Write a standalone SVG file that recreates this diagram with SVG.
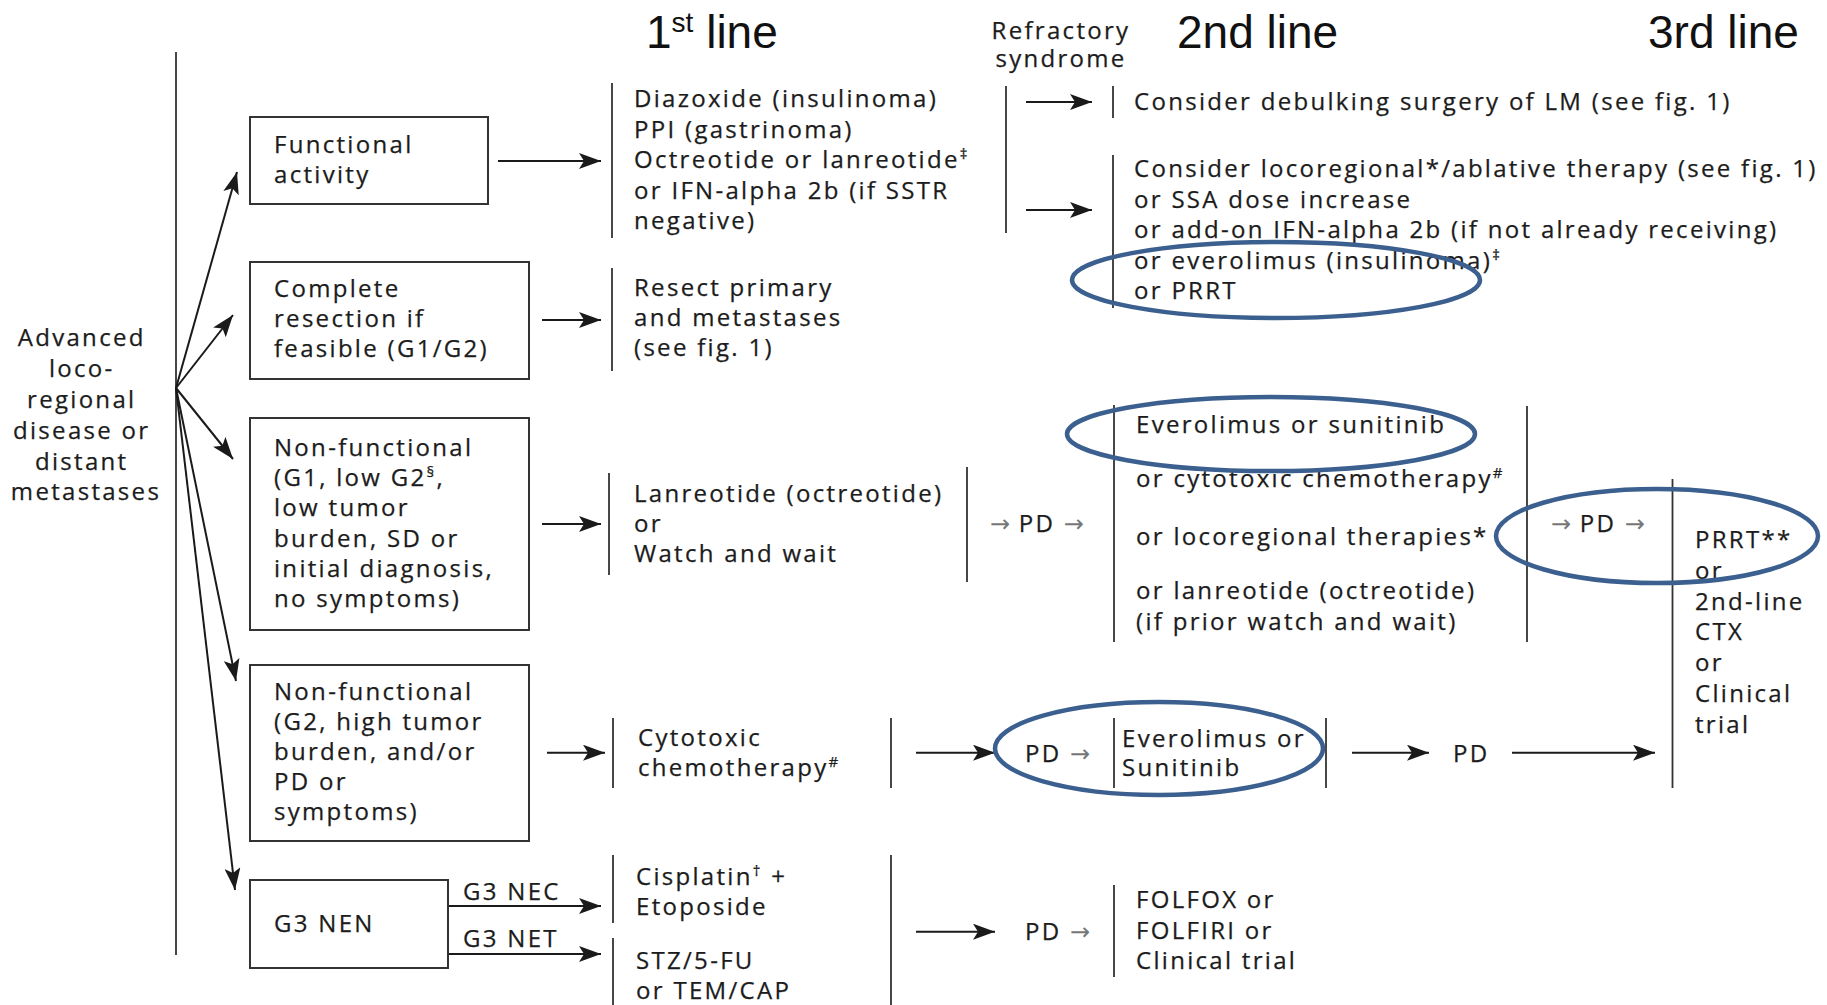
<svg xmlns="http://www.w3.org/2000/svg" width="1827" height="1005" viewBox="0 0 1827 1005">
<defs>
<marker id="ah" markerUnits="userSpaceOnUse" markerWidth="24" markerHeight="16" refX="22" refY="8" orient="auto">
<path d="M0,0 L22,8 L0,16 L5,8 Z" fill="#1a1a1a"/>
</marker>
<style>
.t{font-family:"Open Sans","Noto Sans","DejaVu Sans",sans-serif;font-size:24px;letter-spacing:2.3px;fill:#1c1c1c;stroke:#1c1c1c;stroke-width:0.25}
.h{font-family:"Liberation Sans",Arial,sans-serif;font-size:46px;fill:#111}
.sup{font-size:15px}
.ar{font-family:"DejaVu Sans",sans-serif;font-size:24px;fill:#777;stroke:none;letter-spacing:0}
.bar{stroke:#333;stroke-width:1.8}
.box{fill:#fff;stroke:#333;stroke-width:2}
.conn{stroke:#1a1a1a;stroke-width:2;fill:none;marker-end:url(#ah)}
.ell{fill:none;stroke:#3b5f8e;stroke-width:4.5}
</style>
</defs>
<rect width="1827" height="1005" fill="#fff"/>

<g id="headers">
<text class="h" x="646" y="48">1<tspan font-size="28" dy="-16">st</tspan><tspan dy="16"> line</tspan></text>
<text class="h" x="1177" y="48">2nd line</text>
<text class="h" x="1648" y="48">3rd line</text>
<text class="t" text-anchor="middle" x="1061" y="39">Refractory</text>
<text class="t" text-anchor="middle" x="1061" y="67">syndrome</text>
</g>

<g id="start">
<text class="t" text-anchor="middle" x="86">
<tspan x="86" y="346">Advanced</tspan>
<tspan x="86" y="377">loco-</tspan>
<tspan x="86" y="408">regional</tspan>
<tspan x="86" y="439">disease or</tspan>
<tspan x="86" y="469.5">distant</tspan>
<tspan x="86" y="500">metastases</tspan>
</text>
<line class="bar" x1="176" y1="52" x2="176" y2="955" stroke-width="2"/>
</g>

<g id="connectors">
<line class="conn" x1="176" y1="388" x2="237" y2="172"/>
<line class="conn" x1="176" y1="388" x2="233" y2="315"/>
<line class="conn" x1="176" y1="388" x2="233" y2="459"/>
<line class="conn" x1="176" y1="388" x2="236" y2="681"/>
<line class="conn" x1="176" y1="388" x2="235" y2="890"/>
<line class="conn" x1="498" y1="161" x2="601" y2="161"/>
<line class="conn" x1="542" y1="320" x2="601" y2="320"/>
<line class="conn" x1="542" y1="524" x2="601" y2="524"/>
<line class="conn" x1="547" y1="752.7" x2="605" y2="752.7"/>
<line class="conn" x1="448" y1="906" x2="601" y2="906"/>
<line class="conn" x1="448" y1="954" x2="601" y2="954"/>
<line class="conn" x1="1026" y1="102" x2="1092" y2="102"/>
<line class="conn" x1="1026" y1="210" x2="1092" y2="210"/>
<line class="conn" x1="916" y1="752.7" x2="995" y2="752.7"/>
<line class="conn" x1="1352" y1="752.7" x2="1429" y2="752.7"/>
<line class="conn" x1="1512" y1="752.7" x2="1655" y2="752.7"/>
<line class="conn" x1="916" y1="931.7" x2="995" y2="931.7"/>
</g>

<g id="box-functional">
<rect class="box" x="250" y="117" width="238" height="87"/>
<text class="t"><tspan x="274" y="153">Functional</tspan><tspan x="274" y="183">activity</tspan></text>
</g>
<g id="box-complete">
<rect class="box" x="250" y="262" width="279" height="117"/>
<text class="t"><tspan x="274" y="297">Complete</tspan><tspan x="274" y="327">resection if</tspan><tspan x="274" y="357">feasible (G1/G2)</tspan></text>
</g>
<g id="box-nf1">
<rect class="box" x="250" y="418" width="279" height="212"/>
<text class="t"><tspan x="274" y="456">Non-functional</tspan><tspan x="274" y="486">(G1, low G2<tspan class="sup" dy="-9">§</tspan><tspan dy="9">,</tspan></tspan><tspan x="274" y="516">low tumor</tspan><tspan x="274" y="547">burden, SD or</tspan><tspan x="274" y="577">initial diagnosis,</tspan><tspan x="274" y="607">no symptoms)</tspan></text>
</g>
<g id="box-nf2">
<rect class="box" x="250" y="665" width="279" height="176"/>
<text class="t"><tspan x="274" y="700">Non-functional</tspan><tspan x="274" y="730">(G2, high tumor</tspan><tspan x="274" y="760">burden, and/or</tspan><tspan x="274" y="790">PD or</tspan><tspan x="274" y="820">symptoms)</tspan></text>
</g>
<g id="box-g3">
<rect class="box" x="250" y="880" width="198" height="88"/>
<text class="t" x="274" y="932">G3 NEN</text>
<text class="t" x="463" y="900">G3 NEC</text>
<text class="t" x="463" y="947">G3 NET</text>
</g>

<g id="first-line">
<line class="bar" x1="612" y1="83" x2="612" y2="238"/>
<text class="t"><tspan x="634" y="107">Diazoxide (insulinoma)</tspan><tspan x="634" y="137.5">PPI (gastrinoma)</tspan><tspan x="634" y="168">Octreotide or lanreotide<tspan class="sup" dy="-9">‡</tspan></tspan><tspan x="634" y="198.5">or IFN-alpha 2b (if SSTR</tspan><tspan x="634" y="229">negative)</tspan></text>
<line class="bar" x1="612" y1="268" x2="612" y2="371"/>
<text class="t"><tspan x="634" y="296">Resect primary</tspan><tspan x="634" y="326">and metastases</tspan><tspan x="634" y="356">(see fig. 1)</tspan></text>
<line class="bar" x1="609" y1="473" x2="609" y2="575"/>
<text class="t"><tspan x="634" y="502">Lanreotide (octreotide)</tspan><tspan x="634" y="532">or</tspan><tspan x="634" y="562">Watch and wait</tspan></text>
<line class="bar" x1="613" y1="718" x2="613" y2="788"/>
<text class="t"><tspan x="638" y="746">Cytotoxic</tspan><tspan x="638" y="776">chemotherapy<tspan class="sup" dy="-9">#</tspan></tspan></text>
<line class="bar" x1="613" y1="855" x2="613" y2="923"/>
<text class="t"><tspan x="636" y="885">Cisplatin<tspan class="sup" dy="-9">†</tspan><tspan dy="9"> +</tspan></tspan><tspan x="636" y="915">Etoposide</tspan></text>
<line class="bar" x1="613" y1="938" x2="613" y2="1005"/>
<text class="t"><tspan x="636" y="969">STZ/5-FU</tspan><tspan x="636" y="999">or TEM/CAP</tspan></text>
</g>

<g id="refractory">
<line class="bar" x1="1006" y1="86" x2="1006" y2="233"/>
<line class="bar" x1="1113" y1="86" x2="1113" y2="118"/>
<line class="bar" x1="1113" y1="155" x2="1113" y2="308"/>
<text class="t" x="1134" y="110">Consider debulking surgery of LM (see fig. 1)</text>
<text class="t"><tspan x="1134" y="177">Consider locoregional*/ablative therapy (see fig. 1)</tspan><tspan x="1134" y="207.5">or SSA dose increase</tspan><tspan x="1134" y="238">or add-on IFN-alpha 2b (if not already receiving)</tspan><tspan x="1134" y="268.5">or everolimus (insulinoma)<tspan class="sup" dy="-9">‡</tspan></tspan><tspan x="1134" y="299">or PRRT</tspan></text>
</g>

<g id="second-line-nf1">
<line class="bar" x1="967" y1="467" x2="967" y2="582"/>
<text class="t" x="990" y="532"><tspan class="ar">→</tspan> PD <tspan class="ar">→</tspan></text>
<line class="bar" x1="1114" y1="405" x2="1114" y2="642"/>
<text class="t"><tspan x="1136" y="433">Everolimus or sunitinib</tspan><tspan x="1136" y="487">or cytotoxic chemotherapy<tspan class="sup" dy="-9">#</tspan></tspan><tspan x="1136" y="545">or locoregional therapies*</tspan><tspan x="1136" y="599">or lanreotide (octreotide)</tspan><tspan x="1136" y="630">(if prior watch and wait)</tspan></text>
</g>

<g id="second-line-nf2">
<line class="bar" x1="891" y1="718" x2="891" y2="788"/>
<text class="t" x="1025" y="762">PD <tspan class="ar">→</tspan></text>
<line class="bar" x1="1114" y1="718" x2="1114" y2="788"/>
<text class="t"><tspan x="1122" y="747">Everolimus or</tspan><tspan x="1122" y="776">Sunitinib</tspan></text>
<line class="bar" x1="1326" y1="718" x2="1326" y2="788"/>
<text class="t" x="1453" y="762">PD</text>
</g>

<g id="second-line-g3">
<line class="bar" x1="891" y1="855" x2="891" y2="1005"/>
<text class="t" x="1025" y="940">PD <tspan class="ar">→</tspan></text>
<line class="bar" x1="1114" y1="885" x2="1114" y2="977"/>
<text class="t"><tspan x="1136" y="908">FOLFOX or</tspan><tspan x="1136" y="939">FOLFIRI or</tspan><tspan x="1136" y="969">Clinical trial</tspan></text>
</g>

<g id="third-line">
<line class="bar" x1="1527" y1="406" x2="1527" y2="642"/>
<text class="t" x="1551" y="532"><tspan class="ar">→</tspan> PD <tspan class="ar">→</tspan></text>
<line class="bar" x1="1672.5" y1="479" x2="1672.5" y2="788"/>
<text class="t"><tspan x="1695" y="548">PRRT**</tspan><tspan x="1695" y="579">or</tspan><tspan x="1695" y="610">2nd-line</tspan><tspan x="1695" y="640">CTX</tspan><tspan x="1695" y="671">or</tspan><tspan x="1695" y="702">Clinical</tspan><tspan x="1695" y="733">trial</tspan></text>
</g>

<g id="highlights">
<ellipse class="ell" cx="1276" cy="280" rx="204" ry="38"/>
<ellipse class="ell" cx="1271" cy="434" rx="204" ry="37"/>
<ellipse class="ell" cx="1657" cy="536" rx="161" ry="47"/>
<ellipse class="ell" cx="1159" cy="748.5" rx="164" ry="46.5"/>
</g>
</svg>
